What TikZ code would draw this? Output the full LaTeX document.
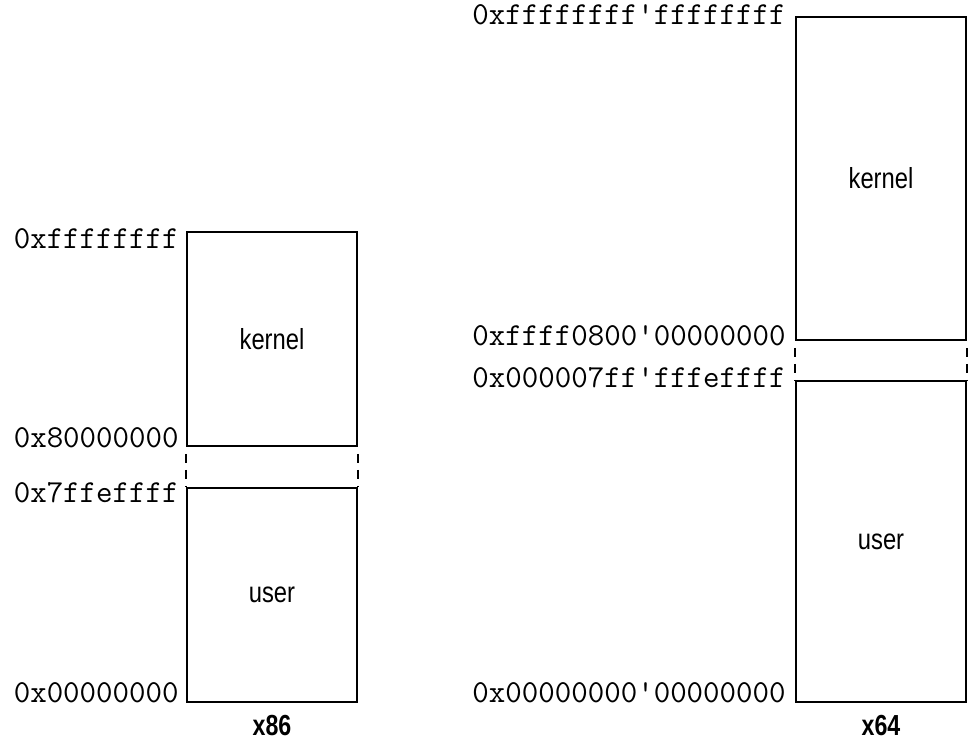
\documentclass[tikz,border=0pt]{standalone}
\usepackage{fontspec}
\usepackage{tikz}
\usetikzlibrary{positioning}
\newfontfamily\condfont[FakeStretch=0.82]{Liberation Sans}
\newfontfamily\archfont[FakeStretch=0.8]{Liberation Sans}

\begin{document}
\begin{tikzpicture}[x=0.5pt, y=-0.5pt,
    region/.style = {draw, line width=0.9pt, minimum width=85pt, inner sep=0pt,
                     font=\condfont\fontsize{14.5}{16}\selectfont},
    addr/.style = {anchor=base east, inner sep=0pt,
                   font=\ttfamily\fontsize{16}{18}\selectfont},
    arch/.style = {inner sep=0pt, font=\archfont\bfseries\fontsize{14.5}{16}\selectfont},
    gap/.style = {line width=0.9pt, dash pattern=on 4.5pt off 3.5pt, dash phase=4.5pt}]
    \useasboundingbox (0,0) rectangle (977,742);
    % x86
    \node[region, minimum height=107pt] (k86) at (272,339) {kernel};
    \node[region, minimum height=107pt] (u86) at (272,595) {user};
    \draw[gap] (k86.south west) -- (u86.north west);
    \draw[gap] (k86.south east) -- (u86.north east);
    \node[arch] (x86) [below=6pt of u86] {x86};
    \node[addr] (a1) at (179,249) {0xffffffff};
    \node[addr] (a2) at (179,447) {0x80000000};
    \node[addr] (a3) at (179,502) {0x7ffeffff};
    \node[addr] (a4) at (179,702) {0x00000000};
    % x64
    \node[region, minimum height=161.5pt] (k64) at (881,178.5) {kernel};
    \node[region, minimum height=160.5pt] (u64) at (881,541.5) {user};
    \draw[gap] (k64.south west) -- (u64.north west);
    \draw[gap] (k64.south east) -- (u64.north east);
    \node[arch] (x64) [below=6pt of u64] {x64};
    \node[addr] (b1) at (786,25) {0xffffffff'ffffffff};
    \node[addr] (b2) at (786,345) {0xffff0800'00000000};
    \node[addr] (b3) at (786,387) {0x000007ff'fffeffff};
    \node[addr] (b4) at (786,702) {0x00000000'00000000};
\end{tikzpicture}
\end{document}
